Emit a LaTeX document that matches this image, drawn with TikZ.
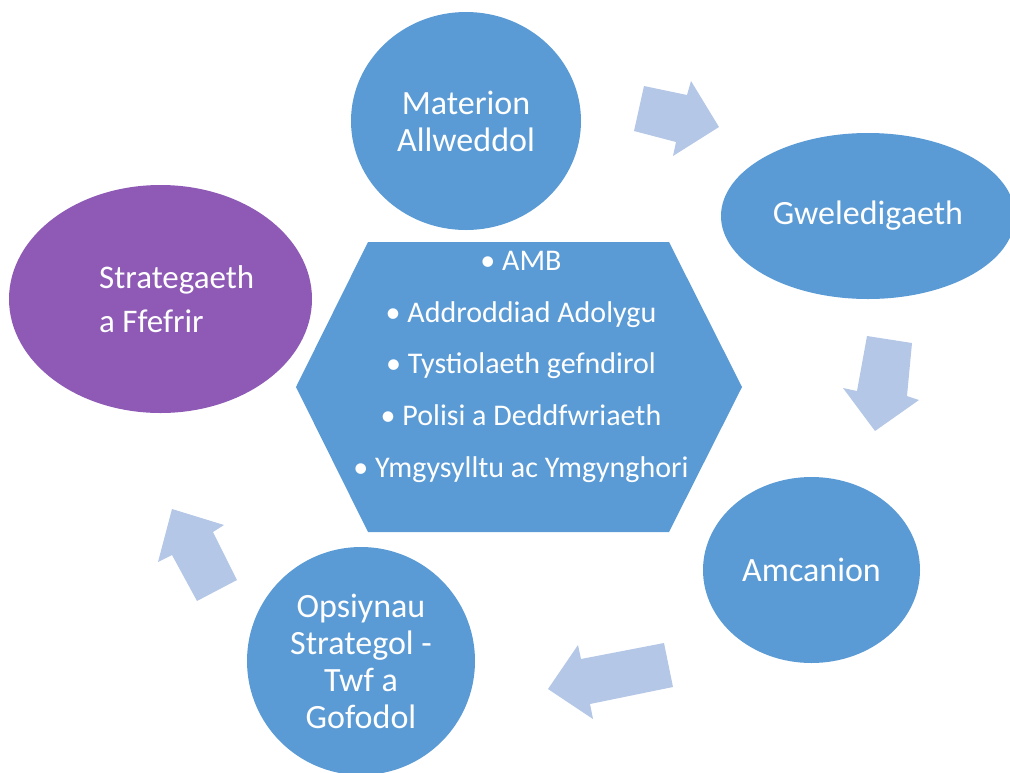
\documentclass[tikz,border=0pt]{standalone}
\usepackage{fontspec}
\setmainfont{Carlito}
\usetikzlibrary{shapes.geometric}
\definecolor{blueA}{HTML}{5B9BD5}
\definecolor{purpleA}{HTML}{8E5AB5}
\definecolor{arrowA}{HTML}{B4C7E7}
\begin{document}
\begin{tikzpicture}[x=1pt,y=-1pt,
  bubble/.style={ellipse, fill=blueA, text=white, align=center, inner sep=0pt,
    font=\fontsize{34}{37}\selectfont},
  blockarrow/.style={fill=arrowA},
  hexline/.style={text=white, anchor=base, inner sep=0pt, font=\fontsize{30}{36}\selectfont}]
\useasboundingbox (0,0) rectangle (1010,772);
% block arrows
\fill[blockarrow] (644,86) -- (687,95) -- (691,81) -- (719,127) -- (673,156) -- (676,142) -- (634,131) -- cycle;
\fill[blockarrow] (867,336) -- (912,343) -- (907,396) -- (919,400) -- (875,431) -- (843,388) -- (857,391) -- cycle;
\fill[blockarrow] (664,643) -- (673,687) -- (590,704) -- (593,719) -- (548,689) -- (578,645) -- (581,659) -- cycle;
\fill[blockarrow] (172,509) -- (224,525) -- (213,532) -- (237,580) -- (197,601) -- (172,555) -- (158,562) -- cycle;
% bubbles
\node[bubble, minimum width=230pt, minimum height=218pt] (materion) at (466,121) {Materion\\Allweddol};
\node[bubble, minimum width=294pt, minimum height=166pt] (gwel) at (868,216) {Gweledigaeth};
\node[bubble, minimum width=217pt, minimum height=186pt] (amcanion) at (811.5,570) {Amcanion};
\node[bubble, minimum width=228pt, minimum height=228pt] (opsiynau) at (361,661) {Opsiynau\\Strategol -\\Twf a\\Gofodol};
\node[bubble, fill=purpleA, minimum width=303pt, minimum height=228pt] (strat) at (160.5,299) {};
\node[text=white, align=left, anchor=west, inner sep=0pt, font=\fontsize{33}{44}\selectfont] (strattext) at (99,299) {Strategaeth\\a Ffefrir};
% hexagon
\fill[blueA] (368,242) -- (669,242) -- (742,387) -- (669,532) -- (368,532) -- (296,387) -- cycle;
\node[hexline] (h1) at (521,270) {• AMB};
\node[hexline] (h2) at (521,322) {• Addroddiad Adolygu};
\node[hexline] (h3) at (521,373) {• Tystiolaeth gefndirol};
\node[hexline] (h4) at (521,425) {• Polisi a Deddfwriaeth};
\node[hexline] (h5) at (521,477) {• Ymgysylltu ac Ymgynghori};
\end{tikzpicture}
\end{document}
